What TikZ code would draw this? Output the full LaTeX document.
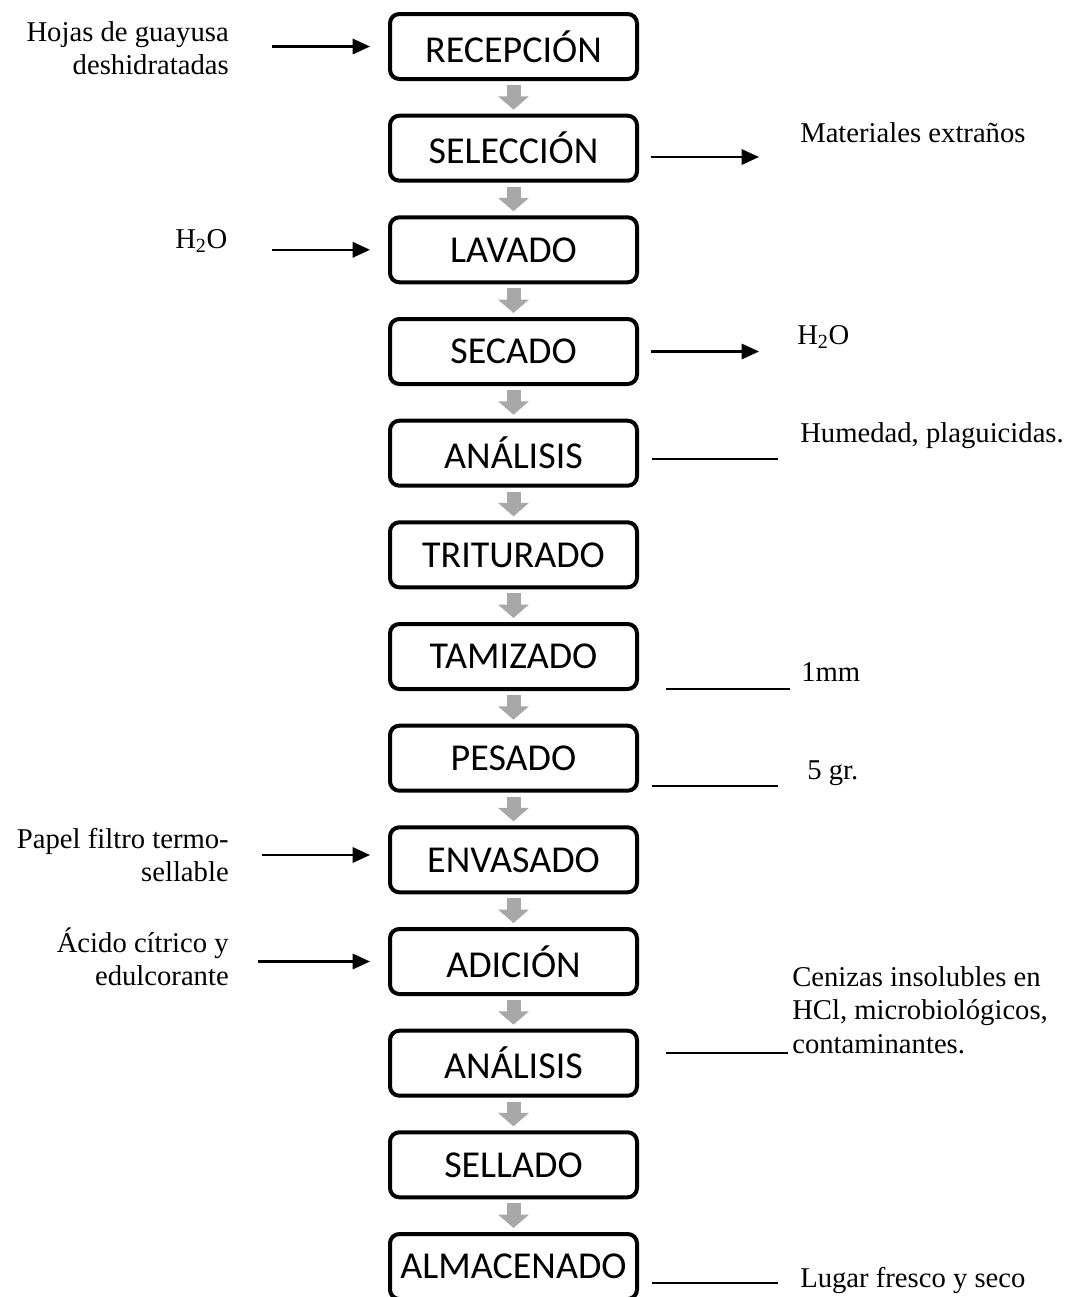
\documentclass[tikz,border=0pt]{standalone}
\usepackage{fontspec}
\setmainfont{Liberation Serif}
\newfontfamily\boxfont{Carlito}
\usetikzlibrary{arrows.meta}
\tikzset{
  stepbox/.style={draw=black, line width=3pt, rounded corners=7pt, fill=white,
    minimum width=185.25pt, minimum height=48.75pt, inner sep=0pt,
    font=\boxfont\fontsize{28.5}{34}\selectfont},
  flowarrow/.style={draw=gray!68, line width=10.5pt, -{Triangle[length=10pt,width=22.5pt]},
    shorten <=3pt, shorten >=3pt},
  sidearrow/.style={line width=1.6pt, -{Triangle[length=13pt,width=11.5pt]}},
  sideline/.style={line width=1.5pt},
  sidetext/.style={inner sep=0pt, font=\fontsize{21.5}{25}\selectfont},
}
\begin{document}
\begin{tikzpicture}[x=0.75pt,y=-0.75pt]
\useasboundingbox (0,0) rectangle (1076,1297);
\node[stepbox] (b1)  at (513.5,46.5)   {RECEPCIÓN};
\node[stepbox] (b2)  at (513.5,148.2)  {SELECCIÓN};
\node[stepbox] (b3)  at (513.5,249.8)  {LAVADO};
\node[stepbox] (b4)  at (513.5,351.5)  {SECADO};
\node[stepbox] (b5)  at (513.5,453.2)  {ANÁLISIS};
\node[stepbox] (b6)  at (513.5,554.8)  {TRITURADO};
\node[stepbox] (b7)  at (513.5,656.5)  {TAMIZADO};
\node[stepbox] (b8)  at (513.5,758.2)  {PESADO};
\node[stepbox] (b9)  at (513.5,859.8)  {ENVASADO};
\node[stepbox] (b10) at (513.5,961.5)  {ADICIÓN};
\node[stepbox] (b11) at (513.5,1063.2) {ANÁLISIS};
\node[stepbox] (b12) at (513.5,1164.8) {SELLADO};
\node[stepbox] (b13) at (513.5,1266.5) {ALMACENADO};

\foreach \a/\b in {b1/b2,b2/b3,b3/b4,b4/b5,b5/b6,b6/b7,b7/b8,b8/b9,b9/b10,b10/b11,b11/b12,b12/b13}
  \draw[flowarrow] (\a.south) -- (\b.north);

% inputs on the left
\node[sidetext, anchor=east, align=right] (t1) at (229,48) {Hojas de guayusa\\deshidratadas};
\coordinate (i1) at (272,46.5);
\draw[sidearrow, shorten >=13.5pt] (i1) -- (i1 -| b1.west);

\node[sidetext, anchor=west] (t3) at (175,241) {H\textsubscript{2}O};
\coordinate (i3) at (272,249.8);
\draw[sidearrow, shorten >=13.5pt] (i3) -- (i3 -| b3.west);

\node[sidetext, anchor=east, align=right] (t9) at (229,855) {Papel filtro termo-\\sellable};
\coordinate (i9) at (262,855);
\draw[sidearrow, shorten >=13.5pt] (i9) -- (i9 -| b9.west);

\node[sidetext, anchor=east, align=right] (t10) at (229,957) {Ácido cítrico y\\edulcorante};
\coordinate (i10) at (258,961.5);
\draw[sidearrow, shorten >=13.5pt] (i10) -- (i10 -| b10.west);

% outputs on the right
\node[sidetext, anchor=west] (t2) at (800,133) {Materiales extraños};
\coordinate (o2) at (759,157);
\draw[sidearrow, shorten <=9pt] (o2 -| b2.east) -- (o2);

\node[sidetext, anchor=west] (t4) at (797,337) {H\textsubscript{2}O};
\coordinate (o4) at (759,351.5);
\draw[sidearrow, shorten <=9pt] (o4 -| b4.east) -- (o4);

\node[sidetext, anchor=west] (t5) at (800,436) {Humedad, plaguicidas.};
\coordinate (o5) at (778,459);
\draw[sideline, shorten <=9.5pt] (o5 -| b5.east) -- (o5);

\node[sidetext, anchor=west] (t7) at (801,672) {1mm};
\coordinate (o7) at (790,689);
\draw[sideline, shorten <=20pt] (o7 -| b7.east) -- (o7);

\node[sidetext, anchor=west] (t8) at (807,773) {5 gr.};
\coordinate (o8) at (778,786);
\draw[sideline, shorten <=9.5pt] (o8 -| b8.east) -- (o8);

\node[sidetext, anchor=west, align=left] (t11) at (792,1010) {Cenizas insolubles en\\HCl, microbiológicos,\\contaminantes.};
\coordinate (o11) at (788,1053);
\draw[sideline, shorten <=20pt] (o11 -| b11.east) -- (o11);

\node[sidetext, anchor=west] (t13) at (800,1280) {Lugar fresco y seco};
\coordinate (o13) at (778,1283);
\draw[sideline, shorten <=9.5pt] (o13 -| b13.east) -- (o13);
\end{tikzpicture}
\end{document}
